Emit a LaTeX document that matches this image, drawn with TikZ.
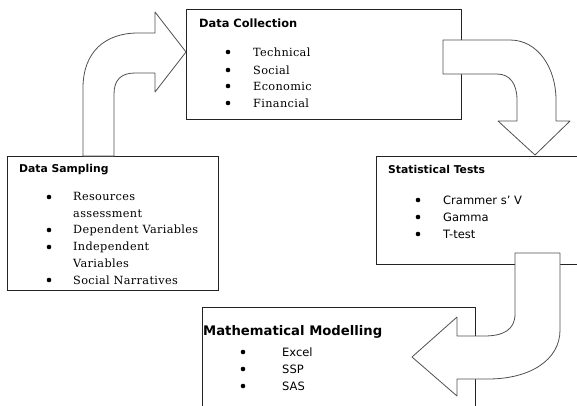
\documentclass[tikz,border=0pt]{standalone}
\usepackage{fontspec}
\setmainfont{DejaVu Serif}[LetterSpace=3]
\newfontfamily\headfont{DejaVu Sans}
\usetikzlibrary{positioning}
\definecolor{EdgeGray}{RGB}{35,35,35}
\definecolor{ArrowGray}{RGB}{80,80,80}

\begin{document}
\begin{tikzpicture}[x=1pt,y=-1pt,
    box/.style={draw=EdgeGray,line width=0.9pt,fill=white,anchor=north west,inner sep=0pt},
    head/.style={anchor=west,inner sep=0pt,font=\headfont\bfseries\fontsize{10.8}{12}\selectfont},
    item/.style={anchor=west,inner sep=0pt,align=left,font=\fontsize{11.3}{16.5}\selectfont},
    sitem/.style={anchor=west,inner sep=0pt,font=\headfont\fontsize{11.5}{13}\selectfont},
    dot/.style={circle,fill=black,inner sep=0pt,minimum size=4.6pt},
    barrow/.style={draw=ArrowGray,fill=white,line width=0.8pt,line join=round}
  ]
  \useasboundingbox (0,0) rectangle (577,405);
  \clip (0,0) rectangle (577,405);

  \node[box,minimum width=275pt,minimum height=110pt] (coll) at (186,9) {};
  \node[box,minimum width=211pt,minimum height=134pt] (samp) at (7,156) {};
  \node[box,minimum width=210pt,minimum height=108pt] (stat) at (376,156) {};
  \node[box,minimum width=273pt,minimum height=110pt] (math) at (202,307) {};

  \draw[barrow] (83,156) -- (83,88) .. controls (83,52) and (105,33) .. (138,33)
    -- (155,33) -- (155,12) -- (186,52) -- (155,92) -- (155,73) -- (135,73)
    .. controls (121,73) and (114,80) .. (114,94) -- (114,156) -- cycle;
  \draw[barrow] (443,40) -- (510,40) .. controls (538,40) and (556,68) .. (556,100)
    -- (556,121) -- (570,121) -- (535,155) -- (498,121) -- (517,121) -- (517,100)
    .. controls (517,84) and (510,74) .. (497,74) -- (443,74) -- cycle;
  \draw[barrow] (515,253) -- (560,253) -- (560,330) .. controls (560,360) and (530,379) .. (488,379)
    -- (457,379) -- (457,396) -- (412,357) -- (457,317) -- (457,336) -- (484,336)
    .. controls (503,336) and (515,330) .. (515,314) -- cycle;

  \node[head,font=\headfont\bfseries\fontsize{11.4}{13}\selectfont] (collhead) at (199,23) {Data Collection};
  \foreach \y/\t [count=\i] in {52/Technical,70/Social,86/Economic,103/Financial}{
    \node[dot] (colldot\i) at (228,\y) {};
    \node[item] (collitem\i) at (253,\y) {\t};
  }

  \node[head] (samphead) at (19,170) {Data Sampling};
  \foreach \y/\t [count=\i] in {205/{Resources\\assessment},230/Dependent Variables,
      255/{Independent\\Variables},280/Social Narratives}{
    \node[item] (sampitem\i) at (73,\y) {\t};
  }
  \foreach \y [count=\i] in {197,230,247,280}
    \node[dot] (sampdot\i) at (49,\y) {};

  \node[head] (stathead) at (388,169) {Statistical Tests};
  \foreach \y/\t [count=\i] in {200/Crammer s’ V,217/Gamma,234/T-test}{
    \node[dot] (statdot\i) at (418,\y) {};
    \node[sitem] (statitem\i) at (443,\y) {\t};
  }

  \node[head,font=\headfont\bfseries\fontsize{13.2}{15}\selectfont] (mathhead) at (203,332) {Mathematical Modelling};
  \foreach \y/\t [count=\i] in {352/Excel,369/SSP,386/SAS}{
    \node[dot] (mathdot\i) at (243,\y) {};
    \node[sitem] (mathitem\i) at (282,\y) {\t};
  }
\end{tikzpicture}
\end{document}
